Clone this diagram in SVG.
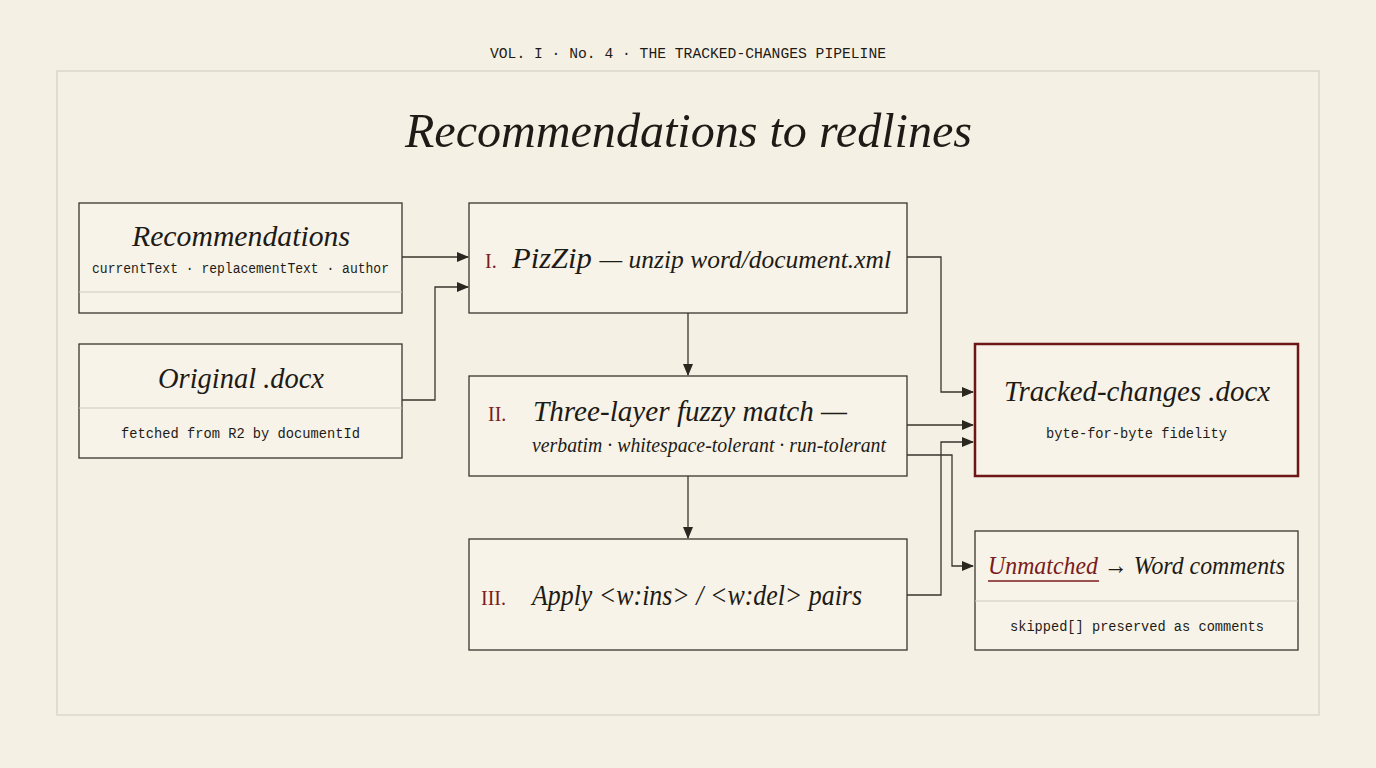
<svg xmlns="http://www.w3.org/2000/svg" width="1376" height="768" viewBox="0 0 1376 768">
<defs>
<marker id="ah" markerWidth="12" markerHeight="10" refX="11" refY="5" orient="auto" markerUnits="userSpaceOnUse"><path d="M0,0 L12,5 L0,10 z" fill="#2a2620"/></marker>
<style>
.box{fill:#f7f3e8;stroke:#3a352d;stroke-width:1.3}
.div{stroke:#cfc9bb;stroke-width:1}
.ser{font-family:"Liberation Serif",serif;font-style:italic;fill:#1e1b16}
.mono{font-family:"Liberation Mono",monospace;fill:#1e1b16;font-size:14px}
.num{font-family:"Liberation Serif",serif;fill:#7a1c1c;font-size:20px}
.ln{fill:none;stroke:#3a352d;stroke-width:1.3}
</style>
</defs>
<rect width="1376" height="768" fill="#f5f0e4"/>
<rect x="57" y="71" width="1262" height="644" fill="none" stroke="#d6d0c2" stroke-width="1.2"/>
<text x="490" y="58" class="mono" textLength="396" lengthAdjust="spacingAndGlyphs">VOL. I · No. 4 · THE TRACKED-CHANGES PIPELINE</text>
<text x="405" y="147" class="ser" style="font-size:48px" textLength="567" lengthAdjust="spacingAndGlyphs">Recommendations to redlines</text>
<g id="connectors">
<path class="ln" d="M402,257 H468" marker-end="url(#ah)"/>
<path class="ln" d="M402,400 H435 V287 H468" marker-end="url(#ah)"/>
<path class="ln" d="M907,257 H941 V392 H973" marker-end="url(#ah)"/>
<path class="ln" d="M688,313 V375" marker-end="url(#ah)"/>
<path class="ln" d="M907,425 H973" marker-end="url(#ah)"/>
<path class="ln" d="M907,455 H952 V566 H973" marker-end="url(#ah)"/>
<path class="ln" d="M907,595 H941 V442 H973" marker-end="url(#ah)"/>
<path class="ln" d="M688,476 V538" marker-end="url(#ah)"/>
</g>
<g id="recommendations">
<rect class="box" x="79" y="203" width="323" height="110"/>
<line class="div" x1="79" y1="292" x2="402" y2="292"/>
<text x="132" y="246" class="ser" style="font-size:30px" textLength="218" lengthAdjust="spacingAndGlyphs">Recommendations</text>
<text x="92" y="273" class="mono" textLength="297" lengthAdjust="spacingAndGlyphs">currentText · replacementText · author</text>
</g>
<g id="original">
<rect class="box" x="79" y="344" width="323" height="114"/>
<line class="div" x1="79" y1="408" x2="402" y2="408"/>
<text x="158" y="388" class="ser" style="font-size:30px" textLength="166" lengthAdjust="spacingAndGlyphs">Original .docx</text>
<text x="121" y="438" class="mono" textLength="239" lengthAdjust="spacingAndGlyphs">fetched from R2 by documentId</text>
</g>
<g id="step1">
<rect class="box" x="469" y="203" width="438" height="110"/>
<text x="485" y="268" class="num">I.</text>
<text x="512" y="268" class="ser" style="font-size:30px" textLength="379" lengthAdjust="spacingAndGlyphs">PizZip <tspan style="font-size:25px">— unzip word/document.xml</tspan></text>
</g>
<g id="step2">
<rect class="box" x="469" y="376" width="438" height="100"/>
<text x="488" y="421" class="num">II.</text>
<text x="533" y="421" class="ser" style="font-size:30px" textLength="314" lengthAdjust="spacingAndGlyphs">Three-layer fuzzy match —</text>
<text x="532" y="452" class="ser" style="font-size:20px" textLength="354" lengthAdjust="spacingAndGlyphs">verbatim · whitespace-tolerant · run-tolerant</text>
</g>
<g id="step3">
<rect class="box" x="469" y="539" width="438" height="111"/>
<text x="481" y="605" class="num">III.</text>
<text x="532" y="605" class="ser" style="font-size:30px" textLength="330" lengthAdjust="spacingAndGlyphs">Apply &lt;w:ins&gt; / &lt;w:del&gt; pairs</text>
</g>
<g id="tracked">
<rect x="975" y="344" width="323" height="132" fill="#f7f3e8" stroke="#6e1616" stroke-width="2.5"/>
<text x="1004" y="401" class="ser" style="font-size:30px" textLength="266" lengthAdjust="spacingAndGlyphs">Tracked-changes .docx</text>
<text x="1046" y="438" class="mono" textLength="181" lengthAdjust="spacingAndGlyphs">byte-for-byte fidelity</text>
</g>
<g id="unmatched">
<rect class="box" x="975" y="531" width="323" height="119"/>
<line class="div" x1="975" y1="601" x2="1298" y2="601"/>
<text x="988" y="574" class="ser" style="font-size:26px" textLength="297" lengthAdjust="spacingAndGlyphs"><tspan fill="#7a1c1c">Unmatched</tspan> → Word comments</text>
<line x1="988" y1="581" x2="1099" y2="581" stroke="#7a1c1c" stroke-width="1.5"/>
<text x="1010" y="631" class="mono" textLength="254" lengthAdjust="spacingAndGlyphs">skipped[] preserved as comments</text>
</g>
</svg>
